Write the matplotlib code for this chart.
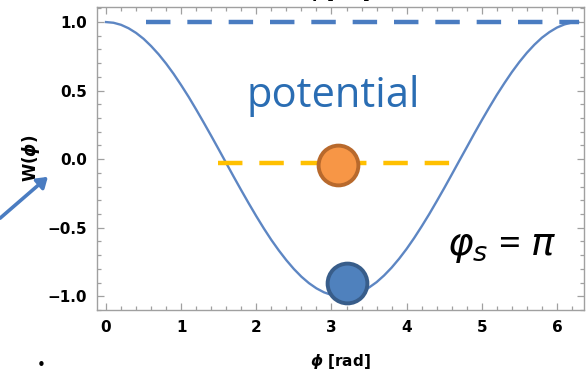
import matplotlib
matplotlib.use("Agg")
import matplotlib.pyplot as plt
from matplotlib.ticker import MultipleLocator

# potential W(phi) sampled along one period
phi = [0.0, 0.1, 0.2, 0.3, 0.4, 0.5, 0.6, 0.7, 0.8, 0.9, 1.0, 1.1, 1.2, 1.3,
       1.4, 1.5, 1.6, 1.7, 1.8, 1.9, 2.0, 2.1, 2.2, 2.3, 2.4, 2.5, 2.6, 2.7,
       2.8, 2.9, 3.0, 3.1, 3.2, 3.3, 3.4, 3.5, 3.6, 3.7, 3.8, 3.9, 4.0, 4.1,
       4.2, 4.3, 4.4, 4.5, 4.6, 4.7, 4.8, 4.9, 5.0, 5.1, 5.2, 5.3, 5.4, 5.5,
       5.6, 5.7, 5.8, 5.9, 6.0, 6.1, 6.2, 6.283]
w_phi = [1.000, 0.995, 0.980, 0.955, 0.921, 0.878, 0.825, 0.765, 0.697,
         0.622, 0.540, 0.454, 0.362, 0.267, 0.170, 0.071, -0.029, -0.129,
         -0.227, -0.323, -0.416, -0.505, -0.589, -0.666, -0.737, -0.801,
         -0.857, -0.904, -0.942, -0.971, -0.990, -0.999, -0.998, -0.987,
         -0.967, -0.936, -0.897, -0.848, -0.791, -0.726, -0.654, -0.575,
         -0.490, -0.401, -0.307, -0.211, -0.112, -0.012, 0.087, 0.187,
         0.284, 0.378, 0.469, 0.554, 0.635, 0.709, 0.776, 0.835, 0.886,
         0.927, 0.960, 0.983, 0.997, 1.000]

# energy levels (dashed) and particle positions
top_level_x = [0.53, 6.30]
top_level_y = [1.0, 1.0]
mid_level_x = [1.49, 4.70]
mid_level_y = [-0.03, -0.03]
ball_orange = (3.09, -0.04)
ball_blue = (3.20, -0.90)

fig = plt.figure(figsize=(5.86, 3.74), dpi=100)
ax = fig.add_axes([0.1655, 0.1711, 0.8311, 0.8102])

ax.plot(phi, w_phi, color="#5d86c3", lw=1.7, zorder=2)
ax.plot(top_level_x, top_level_y, color="#4a7cc1", lw=3.2,
        dashes=(5.5, 3.8), zorder=3, clip_on=False)
ax.plot(mid_level_x, mid_level_y, color="#ffc000", lw=3.2,
        dashes=(5.5, 3.8), zorder=3)
ax.scatter(*ball_orange, s=820, color="#f79646", edgecolor="#b8692c",
           linewidth=2.8, zorder=4)
ax.scatter(*ball_blue, s=820, color="#4f81bd", edgecolor="#385d8a",
           linewidth=2.8, zorder=4)

ax.set_xlim(-0.12, 6.36)
ax.set_ylim(-1.10, 1.11)
ax.xaxis.set_major_locator(MultipleLocator(1))
ax.xaxis.set_minor_locator(MultipleLocator(0.2))
ax.yaxis.set_major_locator(MultipleLocator(0.5))
ax.yaxis.set_minor_locator(MultipleLocator(0.1))
ax.yaxis.set_major_formatter(plt.FuncFormatter(
    lambda v, p: f"{v:.1f}".replace("-", "\u2212")))

for s in ax.spines.values():
    s.set_color("#a0a0a0")
    s.set_linewidth(1.0)
ax.tick_params(which="both", direction="in", top=True, right=True,
               color="#a0a0a0", width=0.9)
ax.tick_params(which="major", length=5, labelsize=11, pad=7)
ax.tick_params(which="minor", length=2.8)
for lab in ax.get_xticklabels() + ax.get_yticklabels():
    lab.set_fontweight("bold")

ax.set_xlabel(r"$\boldsymbol{\phi}$ [rad]", fontsize=11, fontweight="bold",
              labelpad=12)
ax.set_ylabel(r"W($\boldsymbol{\phi}$)", fontsize=12, fontweight="bold",
              labelpad=4)

ax.text(3.02, 0.46, "potential", color="#2a6db3", fontsize=30,
        family="Open Sans", ha="center", va="center")
ax.text(5.27, -0.63, r"$\varphi_s$ = $\pi$", color="black", fontsize=28,
        ha="center", va="center", family="Open Sans", style="italic")

# axis label echoed along the top edge, mostly out of frame
fig.text(0.58, 0.992, r"$\boldsymbol{\phi}$ [rad]", fontsize=11,
         fontweight="bold", ha="center", va="bottom")

# pointer arrow and bullet in the left margin
fig.patches.append(matplotlib.patches.FancyArrowPatch(
    (-2 / 586, 1 - 220 / 374), (50 / 586, 1 - 175 / 374),
    transform=fig.transFigure, arrowstyle="-|>,head_length=6,head_width=4",
    color="#4a7cc1", lw=2.6, mutation_scale=1))
fig.text(41 / 586, 1 - 366 / 374, "\u2022", fontsize=11, ha="center",
         va="center")

fig.savefig("out.png", dpi=100)
